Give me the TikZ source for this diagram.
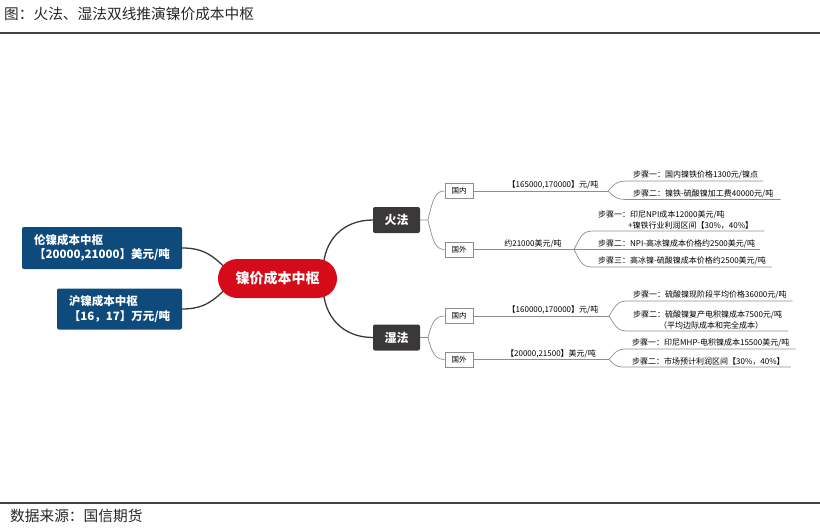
\documentclass[tikz,border=0pt]{standalone}
\usepackage{fontspec}
\setmainfont{Noto Sans CJK SC}
\usetikzlibrary{positioning,backgrounds}
\definecolor{nired}{HTML}{D50B1A}
\definecolor{niblue}{HTML}{0E4A7B}
\definecolor{nidark}{HTML}{3B3838}
\definecolor{nigray}{HTML}{8E8E8E}
\tikzset{
  caption/.style={anchor=west, inner sep=0pt, text=black!85, font=\fontsize{14.7}{16}\selectfont},
  rule/.style={line width=1.4pt, draw=black!75},
  hub/.style={fill=nired, rounded corners=19.5pt, minimum width=119pt, minimum height=39pt,
    inner sep=0pt, text=white, font=\fontsize{14}{16}\selectfont\bfseries},
  lmebox/.style={fill=niblue, rounded corners=2pt, align=left, inner sep=0pt,
    text=white, font=\fontsize{11.5}{14.5}\selectfont\bfseries},
  route/.style={fill=nidark, rounded corners=2pt, minimum width=47pt, minimum height=26pt,
    inner sep=0pt, text=white, font=\fontsize{12}{14}\selectfont\bfseries},
  region/.style={draw=nigray, fill=white, line width=0.7pt, minimum width=28pt,
    minimum height=15pt, inner sep=0pt, font=\fontsize{7.5}{9}\selectfont},
  price/.style={anchor=south, inner sep=1.5pt, font=\fontsize{8}{10}\selectfont},
  stepbox/.style={anchor=south west, inner xsep=3pt, inner ysep=1.5pt, align=left,
    font=\fontsize{8}{11}\selectfont},
  trunk/.style={draw=nidark, line width=1.3pt},
  twig/.style={draw=nigray, line width=0.7pt}
}
\begin{document}
\begin{tikzpicture}[x=1pt,y=-1pt]
  \useasboundingbox (0,0) rectangle (820,530);
  \node[caption] (title) at (4,14) {图：火法、湿法双线推演镍价成本中枢};
  \node[caption] (source) at (10,516) {数据来源：国信期货};
  \coordinate (tl) at (0,33);
  \coordinate (tr) at (820,33);
  \coordinate (bl) at (0,503);
  \coordinate (br) at (820,503);
  \draw[rule] (tl) -- (tr);
  \draw[rule] (bl) -- (br);

  \node[hub] (hub) at (277.5,278.5) {镍价成本中枢};
  \node[lmebox, minimum width=160pt, minimum height=42pt] (lme) at (102,248)
    {伦镍成本中枢\\【20000,21000】美元/吨};
  \node[lmebox, minimum width=125pt, minimum height=41pt] (shfe) at (119.5,309)
    {沪镍成本中枢\\【16，17】万元/吨};
  \node[route] (fire) at (396.5,220) {火法};
  \node[route] (wet) at (396.5,337.5) {湿法};
  \node[region] (fdom) at (459,191) {国内};
  \node[region] (fabr) at (459,249.5) {国外};
  \node[region] (wdom) at (459,316) {国内};
  \node[region] (wabr) at (459,359.5) {国外};

  \coordinate (fsplit) at (428,220);
  \coordinate (wsplit) at (428,337.5);
  \coordinate (fdsplit) at (608,191);
  \coordinate (fasplit) at (574,249.5);
  \coordinate (wdsplit) at (609,316);
  \coordinate (wasplit) at (609,359.5);

  \node[price] (fdlab) at (553,191) {【165000,170000】元/吨};
  \node[price] (falab) at (533,249.5) {约21000美元/吨};
  \node[price] (wdlab) at (553,316) {【160000,170000】元/吨};
  \node[price] (walab) at (551,359.5) {【20000,21500】美元/吨};

  \node[stepbox] (fd1) at (630,181) {步骤一：国内镍铁价格1300元/镍点};
  \node[stepbox] (fd2) at (630,199.5) {步骤二：镍铁-硫酸镍加工费40000元/吨};
  \node[stepbox] (fa1) at (595,231)
    {步骤一：印尼NPI成本12000美元/吨\\\hspace{30pt}+镍铁行业利润区间【30\%，40\%】};
  \node[stepbox] (fa2) at (595,249.5) {步骤二：NPI-高冰镍成本价格约2500美元/吨};
  \node[stepbox] (fa3) at (595,267) {步骤三：高冰镍-硫酸镍成本价格约2500美元/吨};
  \node[stepbox] (wd1) at (630,301) {步骤一：硫酸镍现阶段平均价格36000元/吨};
  \node[stepbox] (wd2) at (630,331)
    {步骤二：硫酸镍复产电积镍成本7500元/吨\\\hspace{26pt}（平均边际成本和完全成本）};
  \node[stepbox] (wa1) at (629,349) {步骤一：印尼MHP-电积镍成本15500美元/吨};
  \node[stepbox] (wa2) at (629,367) {步骤二：市场预计利润区间【30\%，40\%】};

  \begin{pgfonlayer}{background}
    \draw[trunk] (lme.east) .. controls +(22,0) and +(-12,-12) .. ([shift={(8,-10)}]hub.west);
    \draw[trunk] (shfe.east) .. controls +(22,0) and +(-12,12) .. ([shift={(8,10)}]hub.west);
    \draw[trunk] ([shift={(-14,-8)}]hub.east) .. controls +(0,-30) and +(-30,0) .. (fire.west);
    \draw[trunk] ([shift={(-14,8)}]hub.east) .. controls +(0,30) and +(-30,0) .. (wet.west);

    \draw[twig] (fire.east) -- (fsplit) .. controls +(5,-22) and +(-9,0) .. (fdom.west);
    \draw[twig] (fsplit) .. controls +(5,22) and +(-9,0) .. (fabr.west);
    \draw[twig] (wet.east) -- (wsplit) .. controls +(4,-16) and +(-9,0) .. (wdom.west);
    \draw[twig] (wsplit) .. controls +(4,16) and +(-9,0) .. (wabr.west);

    \draw[twig] (fdom.east) -- (fdsplit);
    \draw[twig] (fabr.east) -- (fasplit);
    \draw[twig] (wdom.east) -- (wdsplit);
    \draw[twig] (wabr.east) -- (wasplit);

    \draw[twig] (fdsplit) .. controls +(8,-9) and +(-12,0) .. (fd1.south west) -- ([xshift=2pt]fd1.south east);
    \draw[twig] (fdsplit) .. controls +(8,8) and +(-12,0) .. (fd2.south west) -- ([xshift=4pt]fd2.south east);
    \draw[twig] (fasplit) .. controls +(8,-16) and +(-12,0) .. (fa1.south west) -- ([xshift=8pt]fa1.south east);
    \draw[twig] (fasplit) -- (fa2.south west) -- ([xshift=2pt]fa2.south east);
    \draw[twig] (fasplit) .. controls +(8,16) and +(-12,0) .. (fa3.south west) -- ([xshift=3pt]fa3.south east);
    \draw[twig] (wdsplit) .. controls +(8,-13) and +(-12,0) .. (wd1.south west) -- ([xshift=3pt]wd1.south east);
    \draw[twig] (wdsplit) .. controls +(8,13) and +(-12,0) .. (wd2.south west) -- ([xshift=3pt]wd2.south east);
    \draw[twig] (wasplit) .. controls +(8,-9) and +(-12,0) .. (wa1.south west) -- ([xshift=3pt]wa1.south east);
    \draw[twig] (wasplit) .. controls +(8,8) and +(-12,0) .. (wa2.south west) -- ([xshift=3pt]wa2.south east);
  \end{pgfonlayer}
\end{tikzpicture}
\end{document}
